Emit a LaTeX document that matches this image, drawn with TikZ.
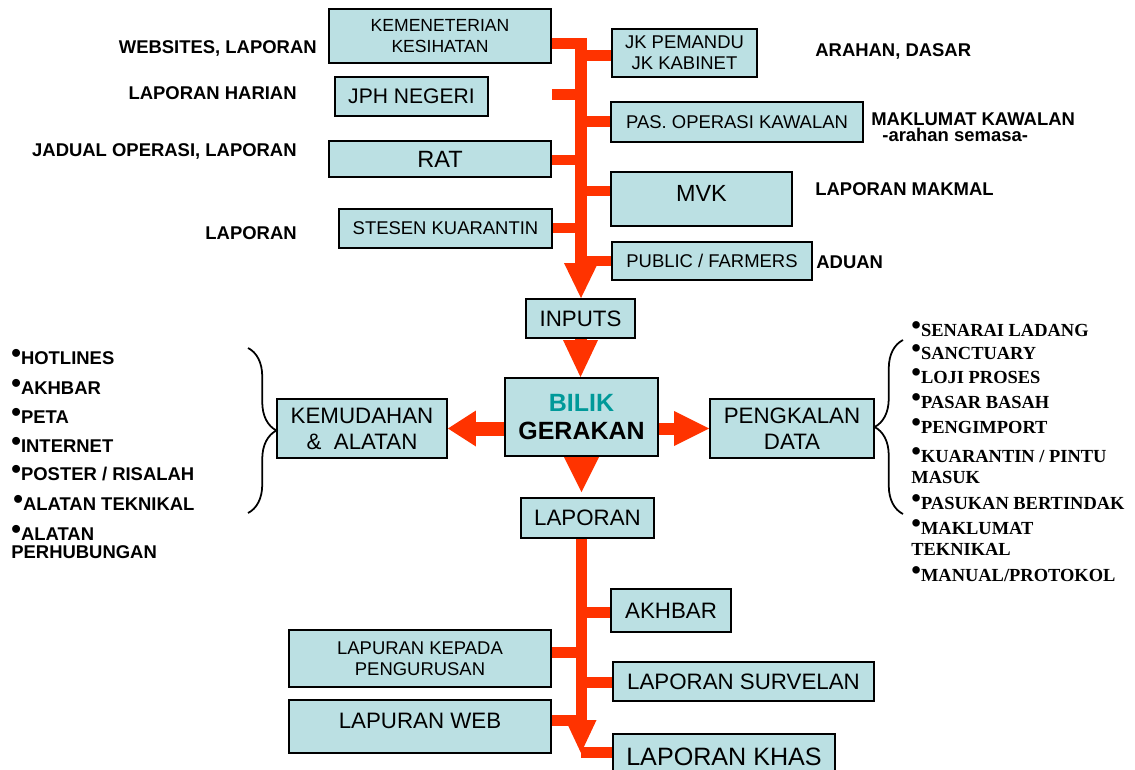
\documentclass[tikz,border=0pt]{standalone}
\usepackage{fontspec}
\setmainfont{Liberation Sans}
\newfontfamily\timesb{Liberation Serif}
\usetikzlibrary{arrows.meta,backgrounds,decorations.pathreplacing}

\definecolor{boxfill}{RGB}{187,224,227}
\definecolor{busred}{RGB}{255,51,0}
\definecolor{bilikteal}{RGB}{0,153,153}
\newcommand{\blt}{\smash{\raisebox{0.06em}{\scalebox{1.5}{\textbullet}}}}

\begin{document}
\begin{tikzpicture}[x=0.02cm,y=-0.02cm,
  box/.style={draw=black,fill=boxfill,line width=1.1pt,inner sep=0pt,align=center,
    font=\fontsize{12.7}{14.8}\selectfont},
  smallbox/.style={box,font=\fontsize{10.5}{12}\selectfont},
  bus/.style={busred,line width=0.24cm},
  stub/.style={busred,line width=0.22cm},
  lbl/.style={inner sep=0pt,font=\bfseries\fontsize{10.5}{12}\selectfont},
  itm/.style={lbl,anchor=base west,align=left,font=\bfseries\fontsize{10.5}{10.2}\selectfont},
  sitm/.style={lbl,anchor=base west,align=left,font=\timesb\bfseries\fontsize{10.5}{11.9}\selectfont},
  brace/.style={decorate,decoration={brace,amplitude=0.57cm},line width=1pt}]
  \useasboundingbox (0,0) rectangle (1135,770);
  \clip (0,0) rectangle (1135,770);

  \node[smallbox,font=\fontsize{10}{12}\selectfont,minimum width=4.44cm,minimum height=1.08cm] (kem) at (440,36) {KEMENETERIAN\\KESIHATAN};
  \node[smallbox,minimum width=2.9cm,minimum height=0.96cm] (jk) at (684.5,53) {JK PEMANDU\\JK KABINET};
  \node[box,font=\fontsize{12}{14}\selectfont,minimum width=3.06cm,minimum height=0.78cm] (jph) at (411.5,96.5) {JPH NEGERI};
  \node[smallbox,minimum width=5.04cm,minimum height=0.8cm] (pas) at (737,122) {PAS. OPERASI KAWALAN};
  \node[box,font=\fontsize{13.4}{16}\selectfont,minimum width=4.44cm,minimum height=0.72cm] (rat) at (440,159) {RAT};
  \node[box,font=\fontsize{13.3}{16}\selectfont,minimum width=3.62cm,minimum height=1.08cm,text height=0.588cm,text depth=0.492cm] (mvk) at (701.5,199) {MVK};
  \node[smallbox,minimum width=4.26cm,minimum height=0.78cm] (stes) at (445.5,228.5) {STESEN KUARANTIN};
  \node[smallbox,minimum width=4cm,minimum height=0.76cm] (pub) at (712,261) {PUBLIC / FARMERS};

  \node[box,minimum width=2.18cm,minimum height=0.78cm] (inputs) at (580.5,318.5) {INPUTS};
  \node[box,font=\bfseries\fontsize{14.2}{15.9}\selectfont,minimum width=3.06cm,minimum height=1.56cm] (bilik) at (581.5,417) {\textcolor{bilikteal}{BILIK}\\GERAKAN};
  \node[box,minimum width=3.4cm,minimum height=1.18cm] (kemud) at (362,428.5) {KEMUDAHAN\\\&\ \ ALATAN};
  \node[box,minimum width=3.28cm,minimum height=1.18cm] (pengk) at (792,428.5) {PENGKALAN\\DATA};
  \node[box,minimum width=2.66cm,minimum height=0.8cm] (lap) at (587.5,518) {LAPORAN};

  \node[box,minimum width=2.4cm,minimum height=0.86cm] (akh) at (671,610.5) {AKHBAR};
  \node[smallbox,minimum width=5.24cm,minimum height=1.14cm] (kep) at (420,658.5) {LAPURAN KEPADA\\PENGURUSAN};
  \node[box,minimum width=5.22cm,minimum height=0.78cm] (surv) at (743.5,681.5) {LAPORAN SURVELAN};
  \node[box,minimum width=5.24cm,minimum height=1.06cm,text height=0.56cm,text depth=0.5cm] (web) at (420,726.5) {LAPURAN WEB};
  \node[box,font=\fontsize{14.3}{16}\selectfont,minimum width=4.44cm,minimum height=0.92cm] (khas) at (724,757) {LAPORAN KHAS};

  \coordinate (bustop) at (581,38);
  \coordinate (skem) at (581,44);
  \coordinate (sjk) at (581,56);
  \coordinate (sjph) at (581,95);
  \coordinate (spas) at (581,122);
  \coordinate (srat) at (581,160);
  \coordinate (smvk) at (581,191);
  \coordinate (sstes) at (581,228);
  \coordinate (spub) at (581,261);
  \coordinate (busbot) at (581,753);
  \coordinate (sakh) at (581,612);
  \coordinate (skep) at (581,652);
  \coordinate (ssurv) at (581,682);
  \coordinate (sweb) at (581,720);
  \coordinate (skhas) at (581,752);

  \begin{scope}[on background layer]
    \fill[white] (0,0) rectangle (1135,770);
    \draw[bus,-{Triangle[length=0.7cm,width=0.68cm,line width=0pt]}] (bustop) -- (bustop |- inputs.north);
    \draw[stub] (kem.east |- skem) -- (skem);
    \draw[stub] (rat.east |- sjph) -- (sjph);
    \draw[stub] (rat.east |- srat) -- (srat);
    \draw[stub] (stes.east |- sstes) -- (sstes);
    \draw[stub] (sjk) -- (jk.west |- sjk);
    \draw[stub] (spas) -- (pas.west |- spas);
    \draw[stub] (smvk) -- (mvk.west |- smvk);
    \draw[stub] (spub) -- (pub.west |- spub);

    \draw[bus,-{Triangle[length=0.74cm,width=0.7cm,line width=0pt]}] (inputs.south) -- (inputs.south |- bilik.north);
    \draw[busred,line width=0.28cm,-{Triangle[length=0.56cm,width=0.72cm,line width=0pt]}] (bilik.west |- kemud) -- (kemud.east);
    \draw[bus,-{Triangle[length=0.7cm,width=0.7cm,line width=0pt]}] (bilik.east |- pengk) -- (pengk.west);
    \draw[bus,shorten >=0.1cm,-{Triangle[length=0.7cm,width=0.7cm,line width=0pt]}] (bilik.south) -- (bilik.south |- lap.north);

    \draw[stub,-{Triangle[length=0.66cm,width=0.62cm,line width=0pt]}] (busbot |- lap.south) -- (busbot);
    \draw[stub] (sakh) -- (akh.west |- sakh);
    \draw[stub] (kep.east |- skep) -- (skep);
    \draw[stub] (ssurv) -- (surv.west |- ssurv);
    \draw[stub] (web.east |- sweb) -- (sweb);
    \draw[stub] (skhas) -- (khas.west |- skhas);
  \end{scope}

  \node[lbl,anchor=base east] (twebsite) at (317,54) {WEBSITES, LAPORAN};
  \node[lbl,anchor=base east] (tharian) at (297,100) {LAPORAN HARIAN};
  \node[lbl,anchor=base east] (tjadual) at (297,157) {JADUAL OPERASI, LAPORAN};
  \node[lbl,anchor=base east] (tlaporan) at (297,239) {LAPORAN};
  \node[lbl,anchor=base west] (tarahan) at (815,57) {ARAHAN, DASAR};
  \node[lbl,anchor=base west] (tkawalan) at (871,126) {MAKLUMAT KAWALAN};
  \node[lbl,anchor=base west] (tsemasa) at (882,142) {-arahan semasa-};
  \node[lbl,anchor=base west] (tmakmal) at (815,195) {LAPORAN MAKMAL};
  \node[lbl,anchor=base west] (taduan) at (816,268) {ADUAN};

  \node[itm] (khot) at (11,364) {\blt HOTLINES};
  \node[itm] (kakh) at (11,394) {\blt AKHBAR};
  \node[itm] (kpeta) at (11,423) {\blt PETA};
  \node[itm] (knet) at (11,452) {\blt INTERNET};
  \node[itm] (kposter) at (11,480) {\blt POSTER / RISALAH};
  \node[itm] (ktek) at (13,510) {\blt ALATAN TEKNIKAL};
  \node[itm] (kperh) at (11,558) {\blt ALATAN\\PERHUBUNGAN};

  \node[sitm] (dladang) at (911,336) {\blt SENARAI LADANG};
  \node[sitm] (dsanct) at (911,359) {\blt SANCTUARY};
  \node[sitm] (dloji) at (911,383) {\blt LOJI PROSES};
  \node[sitm] (dpasar) at (911,408) {\blt PASAR BASAH};
  \node[sitm] (dimport) at (911,433) {\blt PENGIMPORT};
  \node[sitm] (dpintu) at (911,483) {\blt KUARANTIN / PINTU\\MASUK};
  \node[sitm] (dpasukan) at (911,509) {\blt PASUKAN BERTINDAK};
  \node[sitm] (dtek) at (911,555) {\blt MAKLUMAT\\TEKNIKAL};
  \node[sitm] (dmanual) at (911,581) {\blt MANUAL/PROTOKOL};

  \draw[brace] (248,348) -- (248,513);
  \draw[brace] (903,514) -- (903,340);
\end{tikzpicture}
\end{document}
